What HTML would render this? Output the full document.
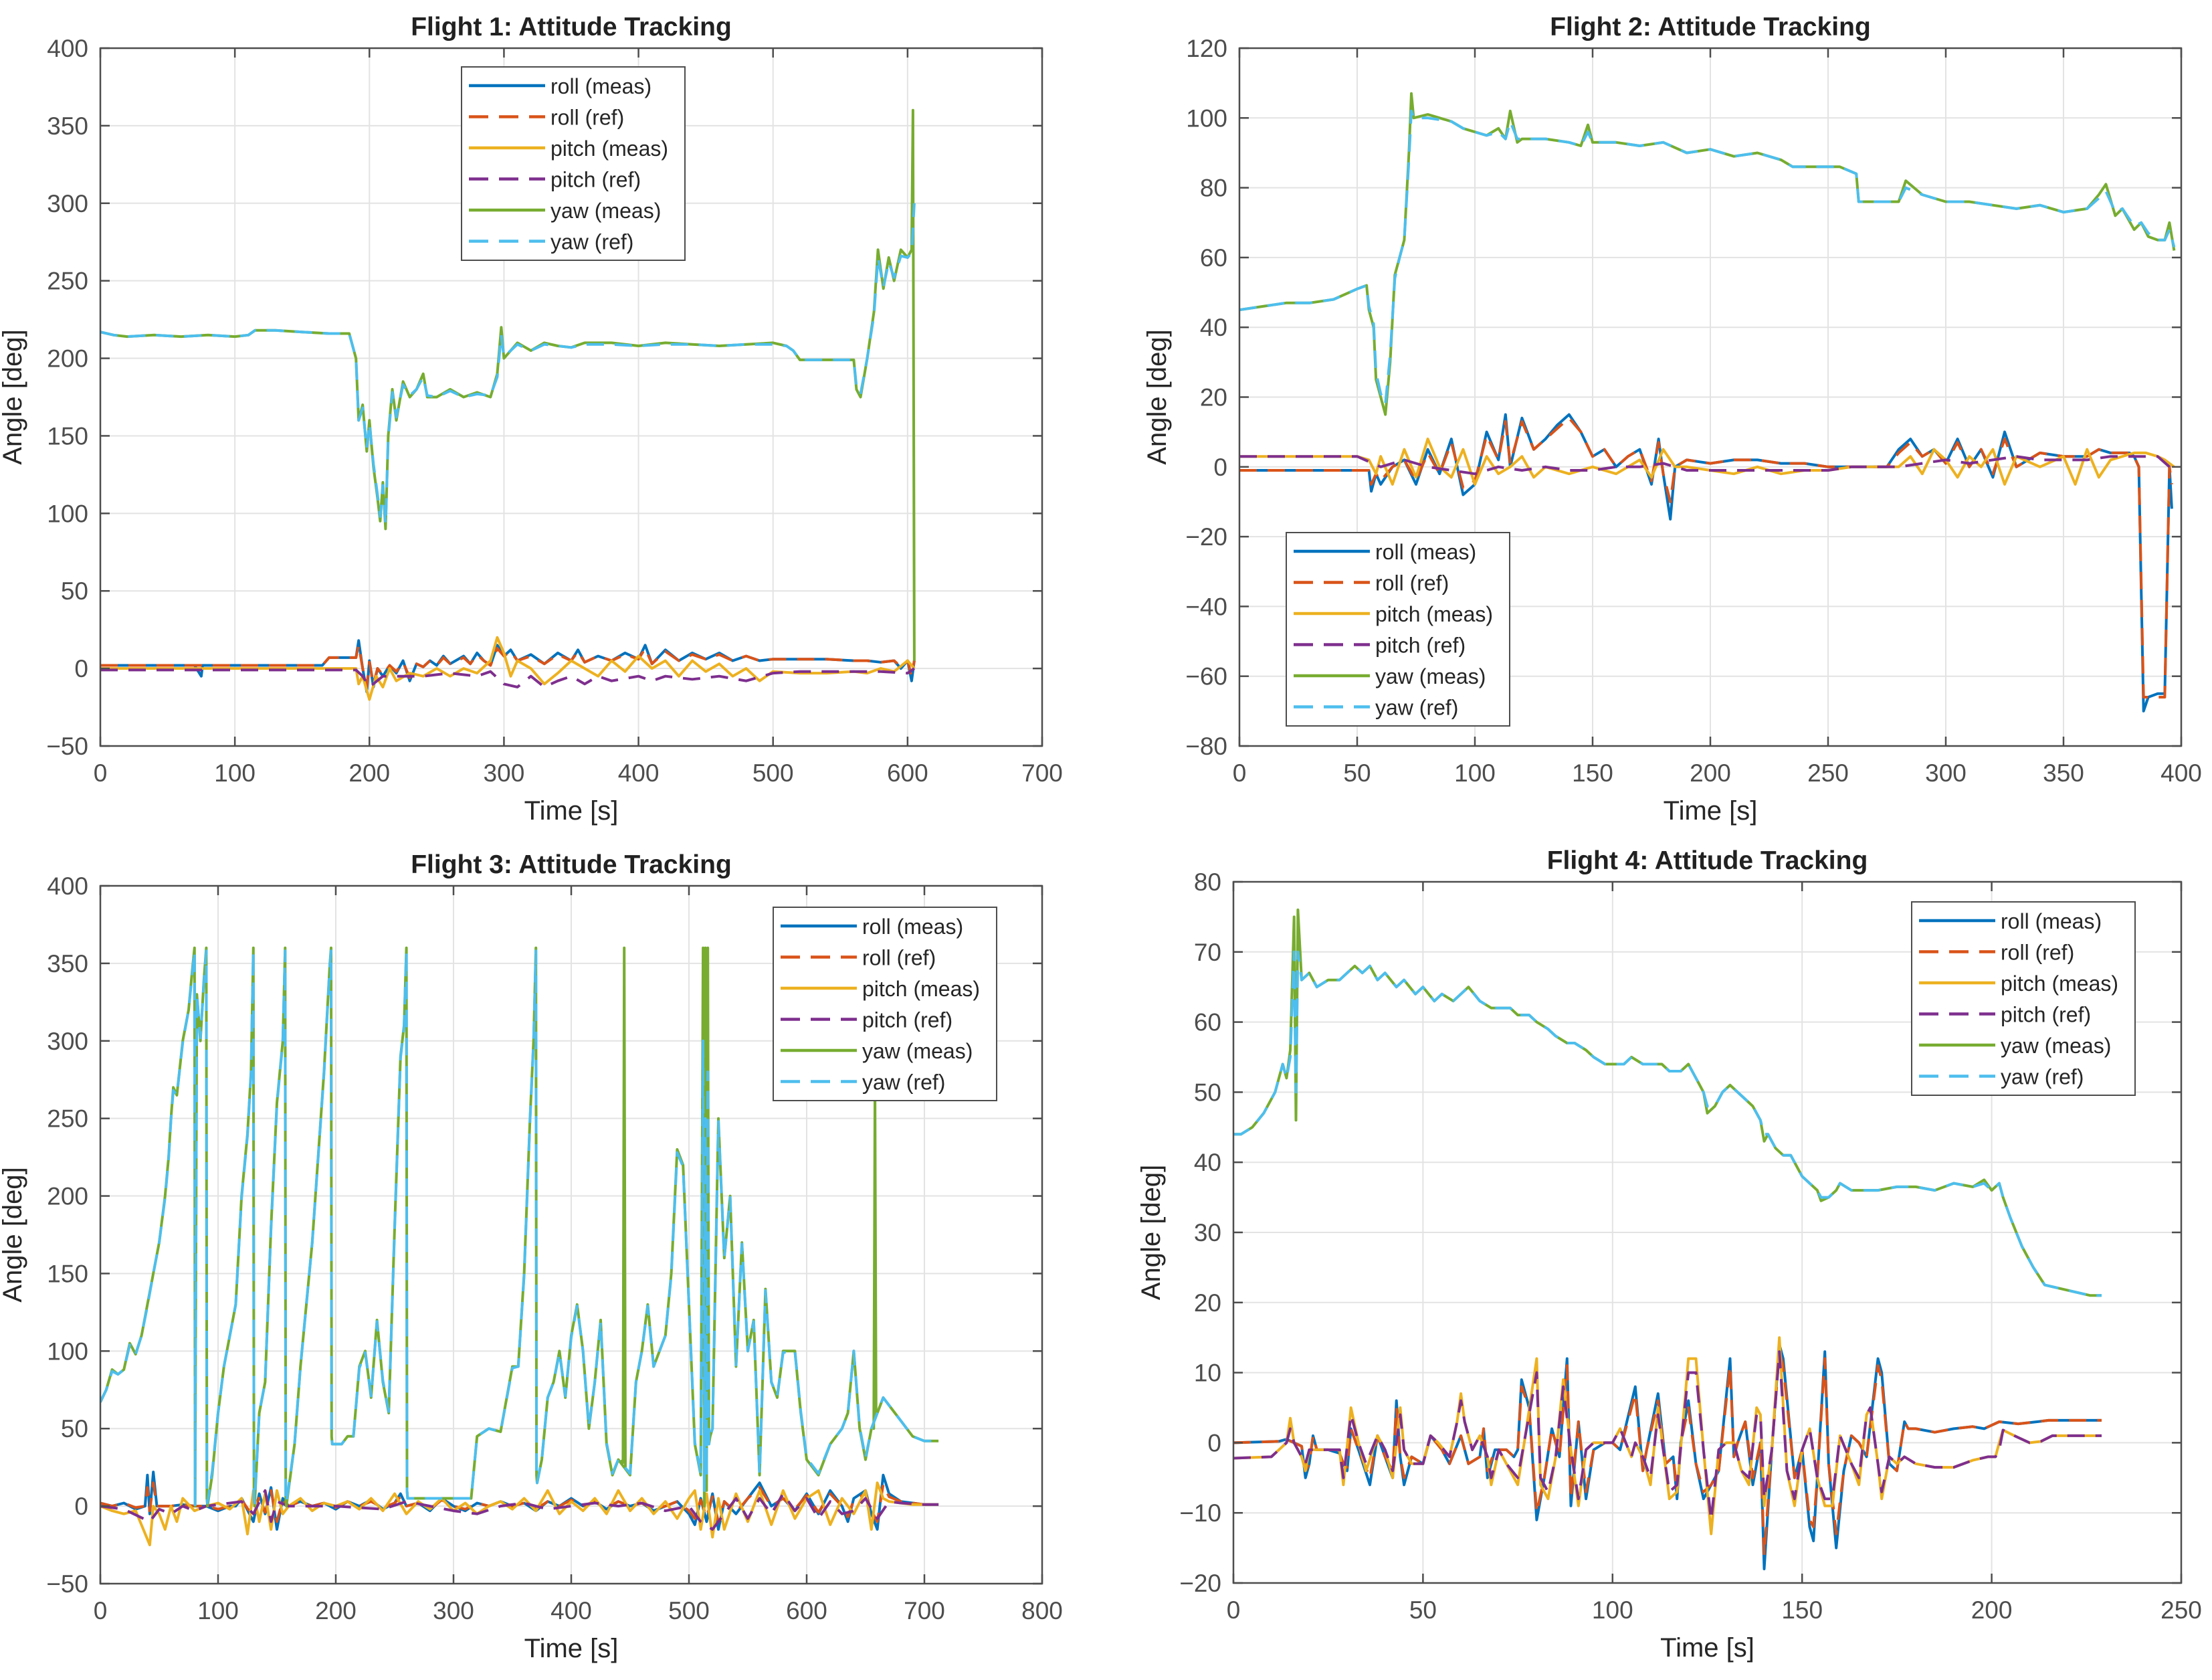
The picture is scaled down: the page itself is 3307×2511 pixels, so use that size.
<!DOCTYPE html>
<html><head><meta charset="utf-8"><style>
html,body{margin:0;padding:0;background:#fff;}
svg text{font-family:"Liberation Sans",Arial,sans-serif;}
</style></head><body>
<svg id="fig" width="3307" height="2506" viewBox="0 0 3307 2506" xmlns="http://www.w3.org/2000/svg">
<rect width="3307" height="2506" fill="#fff"/>
</svg>
<script>
// ---------- Flight 1 ----------
const yaw1T=[0,10,20,40,60,80,100,110,115,130,150,170,185,190,192,195,198,200,203,206,208,210,212,214,217,220,225,230,235,240,243,250,260,270,280,290,295,298,300,305,310,320,330,340,350,360,380,400,420,440,460,480,500,510,515,520,540,560,562,565,570,575,578,582,586,590,595,600,603,604,605];
const yaw1=[217,215,214,215,214,215,214,215,218,218,217,216,216,200,160,170,140,160,130,110,95,120,90,150,180,160,185,175,180,190,175,175,180,175,178,175,190,220,200,205,210,205,210,208,207,210,210,208,210,209,208,209,210,208,205,199,199,199,180,175,200,230,270,245,265,250,270,265,270,360,5];
const yaw1RefT=[0,10,20,40,60,80,100,110,115,130,150,170,185,190,192,195,198,200,203,206,208,210,212,214,217,220,225,230,235,240,243,250,260,270,280,290,295,298,300,305,310,320,330,340,350,360,380,400,420,440,460,480,500,510,515,520,540,560,562,565,570,575,578,582,586,590,595,600,603,605];
const yaw1Ref=[217,215,214,215,214,215,214,215,218,218,217,216,216,200,160,168,142,158,132,112,98,118,93,148,178,162,183,176,180,188,176,175,179,175,177,176,188,215,201,205,209,205,209,208,207,209,209,208,209,209,208,209,209,208,205,199,199,199,182,177,200,228,265,246,262,252,266,265,268,300];
const roll1T=[0,70,75,76,165,170,190,192,195,198,200,203,206,210,215,220,225,230,235,240,245,250,255,260,270,275,280,285,290,295,300,305,310,320,330,340,350,355,360,370,380,390,400,405,410,420,430,440,450,460,470,480,490,500,520,540,560,570,580,590,595,600,603,605];
const roll1=[2,2,-5,2,2,7,7,18,0,-15,5,-12,0,-5,2,-3,5,-8,3,1,5,2,8,3,8,3,10,5,2,15,8,12,5,9,3,10,5,12,4,8,5,10,6,15,3,12,5,10,6,10,5,8,5,6,6,6,5,5,4,5,0,5,-8,5];
const roll1Ref=[2,2,2,2,2,7,7,15,0,-12,4,-10,0,-4,2,-2,4,-6,3,1,5,2,7,3,7,3,9,5,2,13,8,11,5,8,3,9,5,11,4,8,5,9,6,13,3,11,5,9,6,9,5,8,5,6,6,6,5,5,4,5,1,5,-5,5];
const pitch1T=[0,165,190,192,195,200,205,210,215,220,230,240,250,260,270,280,290,295,300,305,310,320,330,340,350,360,370,380,390,400,410,420,430,440,450,460,470,480,490,500,520,540,560,570,580,590,600,605];
const pitch1=[0,0,0,-10,-5,-20,-5,-12,0,-8,-3,-5,0,-5,0,-3,5,20,10,-5,5,0,-10,-3,5,0,-5,5,-2,8,0,5,-5,5,-2,3,-5,0,-8,-2,-3,-3,-2,-3,0,-2,5,0];
const pitch1RefT=[0,190,195,200,210,220,240,260,280,290,300,310,320,330,340,350,360,370,380,400,410,420,440,460,480,500,520,560,580,600,605];
const pitch1Ref=[-1,-1,-5,-12,-5,-5,-5,-3,-5,-2,-10,-12,-5,-12,-8,-5,-10,-5,-8,-5,-8,-5,-7,-5,-8,-3,-2,-2,-2,-3,0];

// ---------- Flight 2 ----------
const yaw2T=[0,10,20,30,40,50,54,55,57,58,60,62,64,66,68,70,72,73,74,80,90,95,100,105,110,113,115,118,120,130,140,145,148,150,160,170,180,190,200,210,220,230,235,240,250,255,262,263,270,280,283,290,300,310,320,330,340,350,360,365,368,372,375,380,383,386,390,393,395,397];
const yaw2=[45,46,47,47,48,51,52,45,40,25,20,15,30,55,60,65,90,107,100,101,99,97,96,95,97,94,102,93,94,94,93,92,98,93,93,92,93,90,91,89,90,88,86,86,86,86,84,76,76,76,82,78,76,76,75,74,75,73,74,78,81,72,74,68,70,66,65,65,70,62];
const yaw2Ref=[45,46,47,47,48,51,52,46,41,27,21,18,32,54,60,65,88,102,100,100,99,97,96,95,96,94,99,94,94,94,93,92,96,93,93,92,93,90,91,89,90,88,86,86,86,86,84,76,76,76,80,78,76,76,75,74,75,73,74,77,79,73,74,69,70,67,65,65,68,63];
const roll2T=[0,50,55,56,58,60,65,70,75,80,85,90,95,100,105,110,113,115,120,125,130,135,140,145,150,155,160,165,170,175,178,180,183,185,190,200,210,220,230,240,250,260,270,275,280,285,290,295,300,305,310,315,320,325,330,340,350,360,365,370,375,378,380,382,384,386,390,393,395,396];
const roll2=[-1,-1,-1,-7,-2,-5,0,2,-5,5,-2,8,-8,-5,10,2,15,0,14,5,8,12,15,10,3,5,0,3,5,-5,8,-2,-15,0,2,1,2,2,1,1,0,0,0,0,5,8,3,5,1,8,0,5,-3,10,0,4,3,3,5,4,4,4,3,0,-70,-66,-65,-65,0,-12];
const roll2Ref=[-1,-1,-1,-5,-2,-4,0,2,-4,4,-2,7,-6,-4,9,2,13,1,13,5,8,11,14,10,3,5,0,3,5,-4,7,-2,-10,0,2,1,2,2,1,1,0,0,0,0,4,7,3,5,1,7,0,5,-2,8,0,4,3,3,5,4,4,4,3,0,-66,-66,-66,-66,0,-5];
const pitch2T=[0,50,55,58,60,65,70,75,80,85,90,95,100,105,110,115,120,125,130,140,150,160,170,175,180,185,190,200,210,220,230,240,250,260,270,280,285,290,295,300,305,310,315,320,325,330,340,350,355,360,365,370,375,380,385,390,393,397];
const pitch2=[3,3,2,-2,3,-5,5,-3,8,0,-3,5,-5,3,-2,0,3,-3,0,-2,0,-2,2,-3,5,0,0,-1,-2,0,-2,-1,-1,0,0,0,3,-2,5,2,-3,3,0,5,-5,3,0,3,-5,5,-3,2,3,4,4,3,2,0];
const pitch2RefT=[0,50,60,70,80,90,100,110,120,130,140,150,160,170,180,190,200,220,240,250,260,280,290,300,310,320,330,340,350,360,370,380,385,390,395];
const pitch2Ref=[3,3,0,2,0,-1,-2,0,-1,0,-1,-1,0,0,1,-1,-1,-1,-1,-1,0,0,1,2,1,2,3,2,2,2,3,3,3,3,0];

// ---------- Flight 3 ----------
const yaw3T=[
 0,5,10,15,20,25,30,35,40,45,
 50,55,58,60,62,65,70,75,78,80,
 80.5,82,85,88,90,90.5,91,95,100,105,
 110,115,120,125,128,130,130.5,131,135,140,
 145,150,155,157,157.5,158,165,170,180,190,
 195,196,196.5,197,205,210,215,220,225,230,
 235,240,245,250,255,258,260,260.5,261,270,
 290,300,310,315,320,330,340,350,355,360,
 365,368,370,370.5,371,375,380,385,390,395,
 400,405,410,415,420,425,430,435,440,450,
 455,460,465,470,480,485,490,495,500,505,
 510,512,513,514,515,516,517,518,520,525,
 530,535,540,545,550,555,560,565,570,575,
 580,590,595,600,610,620,630,635,640,645,
 650,655,660,665,670,680,690,700,712];
const yaw3=[
 67,75,88,85,88,105,98,110,130,150,
 170,200,225,250,270,265,300,320,345,360,
 0,330,300,340,360,5,0,20,60,90,
 110,130,200,240,280,360,5,0,60,80,
 180,260,300,360,5,0,40,90,170,280,
 350,360,45,40,40,45,45,90,100,70,
 120,80,60,180,290,310,360,10,5,5,
 5,5,5,5,45,50,48,90,90,150,
 250,300,360,20,15,30,70,80,100,70,
 110,130,100,50,80,120,40,20,30,20,
 80,100,130,90,110,150,230,220,130,40,
 20,360,0,360,10,360,40,45,50,250,
 160,200,90,170,100,120,20,140,80,70,
 100,100,60,30,20,40,50,60,100,50,
 30,50,60,70,65,55,45,42,42];
const yaw3Ref=[
 67,75,87,85,88,104,98,110,129,150,
 170,199,224,249,268,265,299,320,343,358,
 0,330,302,338,358,5,2,22,60,90,
 110,130,199,239,279,358,5,2,60,80,
 179,259,299,358,5,2,40,90,170,279,
 349,358,45,40,40,45,45,89,99,71,
 119,81,61,179,289,309,358,10,5,5,
 5,5,5,5,45,50,48,89,90,149,
 249,299,358,20,15,30,70,80,99,71,
 109,129,100,51,80,119,41,21,30,21,
 80,100,129,90,110,149,228,219,130,41,
 21,300,10,250,20,280,40,45,50,248,
 160,199,91,169,100,119,21,139,80,71,
 99,100,61,31,21,40,50,60,100,51,
 31,50,60,70,65,55,45,42,42];
const yaw3SpikeAT=[443,444,445,446];
const yaw3SpikeA=[30,28,360,25];
const yaw3SpikeBT=[656,657,658,659];
const yaw3SpikeB=[52,50,270,58];
const roll3T=[0,10,20,30,38,40,42,45,48,60,70,80,90,100,110,115,120,130,135,140,145,150,155,160,170,180,190,200,210,220,230,240,250,255,260,270,280,290,300,310,320,330,340,350,360,370,380,390,400,410,420,430,440,450,460,470,480,490,500,505,510,515,520,525,530,540,550,560,570,580,590,600,610,620,630,635,640,650,655,660,665,670,680,690,700,712];
const roll3=[2,0,2,-2,0,20,-5,22,0,0,1,0,0,-3,0,0,5,-10,8,-5,12,-15,5,0,3,0,2,-2,3,0,4,-2,2,8,0,2,-3,5,0,-3,2,0,3,0,2,-3,3,0,5,0,3,-2,3,0,2,-3,0,3,-5,-12,5,-10,8,-15,3,-5,5,15,0,5,-3,8,-5,10,0,-10,5,10,-5,-15,20,8,3,2,1,1];
const roll3Ref=[2,0,2,-1,0,12,-3,15,0,0,1,0,0,-2,0,0,4,-7,6,-4,10,-10,4,0,3,0,2,-1,3,0,3,-1,2,6,0,2,-2,4,0,-2,2,0,3,0,2,-2,3,0,4,0,3,-1,3,0,2,-2,0,3,-3,-8,4,-7,6,-10,3,-4,5,12,0,5,-2,7,-4,8,0,-7,4,8,-3,-10,14,6,3,2,1,1];
const pitch3T=[0,10,20,30,42,45,50,55,60,65,70,80,90,100,110,120,125,130,135,140,145,150,155,160,170,180,190,200,210,220,230,240,250,260,270,280,290,300,310,320,330,340,350,360,370,380,390,400,410,420,430,440,450,460,470,480,490,500,505,510,515,520,525,530,540,550,560,570,580,590,600,610,620,630,640,650,655,660,665,670,680,690,712];
const pitch3=[0,-3,-5,-3,-25,0,-5,-15,0,-10,5,-3,0,2,-2,5,-18,10,-10,8,-15,10,-5,0,5,-3,2,0,3,-2,5,-3,8,-5,3,-2,5,-3,2,-5,0,3,-2,5,-3,10,-5,3,-3,5,-5,10,-3,5,-5,3,-8,5,10,-15,8,-20,5,-15,8,-10,10,-12,10,-8,5,10,-12,5,-5,10,-15,15,5,3,2,1,1];
const pitch3RefT=[0,20,42,50,60,70,80,90,120,130,140,145,150,160,200,240,260,280,300,320,340,360,380,400,420,440,460,480,500,510,520,530,540,550,560,570,580,590,600,610,620,630,640,650,660,670,680,700,712];
const pitch3Ref=[0,-2,-10,-2,-5,0,-3,0,3,-5,10,-10,3,0,0,-2,3,0,-3,-5,0,2,-2,0,2,0,2,-3,0,-10,-15,-5,5,-8,5,-5,8,-3,5,-8,3,-5,-3,5,-8,3,2,1,1];

// ---------- Flight 4 ----------
const yaw4T=[0,2,5,8,11,13,14,15,16,16.5,17,18,20,22,25,28,30,32,34,36,38,40,43,45,48,50,53,55,58,60,62,65,68,70,73,75,78,80,83,85,88,90,93,95,98,100,103,105,108,110,113,115,118,120,122,124,125,127,129,131,133,135,137,139,140,141,143,145,147,149,150,152,154,155,157,159,160,163,165,168,170,175,180,185,190,195,198,200,202,203,205,208,211,214,218,222,226,229];
const yaw4=[44,44,45,47,50,54,52,56,75,46,76,66,67,65,66,66,67,68,67,68,66,67,65,66,64,65,63,64,63,64,65,63,62,62,62,61,61,60,59,58,57,57,56,55,54,54,54,55,54,54,54,53,53,54,52,50,47,48,50,51,50,49,48,46,43,44,42,41,41,39,38,37,36,34.5,35,36,37,36,36,36,36,36.5,36.5,36,37,36.5,37.5,36,37,35,32,28,25,22.5,22,21.5,21,21];
const yaw4Ref=[44,44,45,47,50,54,52,55,70,50,70,66,67,65,66,66,67,68,67,68,66,67,65,66,64,65,63,64,63,64,65,63,62,62,62,61,61,60,59,58,57,57,56,55,54,54,54,55,54,54,54,53,53,54,52,50,48,48,50,51,50,49,48,46,44,44,42,41,41,39,38,37,36,35,35,36,37,36,36,36,36,36.5,36.5,36,37,36.5,37,36,37,35,32,28,25,22.5,22,21.5,21,21];
const roll4T=[0,12,14,16,18,19,20,21,22,25,28,29,30,31,33,36,38,40,42,43,44,45,47,50,52,55,57,60,62,65,66,67,69,72,74,75,76,78,80,82,84,86,88,89,91,93,95,98,100,102,106,108,109,112,114,116,117,118,120,122,124,126,128,131,132,133,135,137,139,140,142,144,145,148,150,152,153,154,156,157,159,161,163,165,167,170,171,173,175,177,178,180,185,190,195,198,200,202,207,212,215,229];
const roll4=[0,0.2,0.5,0,-0.5,-5,-3,1,-1,-1,-1.5,-3,-4,2,-1,-6,1,-2,-5,6,-2,-6,-2,-3,1,-1,-3,1,-3,-2,2,-5,-1,-1,-2,-1,9,5,-11,-5,2,-2,12,-9,3,-8,-1,0,0,-1,8,-4,-1,7,-3,-2,-8,0,6,-3,-8,-6,-4,12,-2,0,3,-6,0,-18,-1,14,12,-5,-1,-12,-14,-5,13,-3,-15,-4,1,0,-2,12,10,-3,-4,3,2,2,1.5,2,2.3,2,2.5,3,2.7,3,3.2,3.2];
const roll4Ref=[0,0.2,0.5,0,-0.5,-4,-3,1,-1,-1,-1.5,-3,-3.5,2,-1,-5,1,-2,-4,5,-2,-5,-2,-3,1,-1,-3,1,-3,-2,2,-4,-1,-1,-2,-1,8,5,-10,-5,2,-2,11,-8,3,-7,-1,0,0,-1,7,-4,-1,6,-3,-2,-7,0,5,-3,-7,-6,-4,11,-2,0,3,-5,0,-16,-1,13,11,-5,-1,-11,-12,-5,12,-3,-13,-4,1,0,-2,11,9,-3,-4,3,2,2,1.5,2,2.3,2,2.5,3,2.7,3,3.2,3.2];
const pitch4T=[0,10,14,15,16,18,19,20,24,28,29,31,33,35,38,40,42,44,45,47,50,52,54,57,59,60,61,63,65,67,68,70,72,75,77,80,81,83,85,87,89,91,93,95,98,100,102,105,106,108,110,112,115,117,120,122,124,126,128,130,132,134,136,138,139,140,142,144,146,148,150,152,154,156,158,160,163,165,167,168,170,171,173,175,177,180,185,190,195,199,201,202,203,206,210,213,216,229];
const pitch4=[-2.2,-2,0,3.5,0,-2,-4,-1,-1,-1,-6,5,0,-4,1,-1,-5,5,-1,-3,-3,1,0,-2,3,7,3,-1,1,-2,-6,-1,-3,-6,1,12,-6,-8,-2,9,-1,-9,-1,0,0,0,2,-2,0,-2,-6,5,-8,-7,12,12,-1,-13,-1,0,0,-4,-6,5,4,-9,-1,15,-4,-9,-1,2,-5,-9,-9,1,-3,-6,4,5,-3,-8,-2,-3,-2,-3,-3.5,-3.5,-2.5,-2,-2,0,1.8,1,0,0.2,1,1];
const pitch4Ref=[-2.2,-2,0,2,0,-2,-3,-1,-1,-1,-5,4,0,-3,1,-1,-4,4,-1,-3,-3,1,0,-2,3,6,3,-1,1,-2,-5,-1,-3,-5,1,10,-5,-7,-2,8,-1,-8,-1,0,0,0,2,-2,0,-2,-5,4,-7,-6,10,10,-1,-11,-1,0,0,-4,-5,4,4,-8,-1,13,-4,-8,-1,2,-5,-8,-8,1,-3,-5,4,5,-3,-7,-2,-3,-2,-3,-3.5,-3.5,-2.5,-2,-2,-1,1.8,1,0,0.2,1,1];

// ---------- Axis tick data ----------
const xTicks1=[0,100,200,300,400,500,600,700], yTicks1=[-50,0,50,100,150,200,250,300,350,400];
const xTicks2=[0,50,100,150,200,250,300,350,400], yTicks2=[-80,-60,-40,-20,0,20,40,60,80,100,120];
const xTicks3=[0,100,200,300,400,500,600,700,800], yTicks3=[-50,0,50,100,150,200,250,300,350,400];
const xTicks4=[0,50,100,150,200,250], yTicks4=[-20,-10,0,10,20,30,40,50,60,70,80];
const titles=["Flight 1: Attitude Tracking","Flight 2: Attitude Tracking","Flight 3: Attitude Tracking","Flight 4: Attitude Tracking"];
const legendLabels=["roll (meas)","roll (ref)","pitch (meas)","pitch (ref)","yaw (meas)","yaw (ref)"];

const NS="http://www.w3.org/2000/svg";
const svg=document.getElementById('fig');
const C={rm:"#0072BD",rr:"#D95319",pm:"#EDB120",pr:"#7E2F8E",ym:"#77AC30",yr:"#4DBEEE"};
function el(tag,attrs,parent){const e=document.createElementNS(NS,tag);for(const k in attrs)e.setAttribute(k,attrs[k]);(parent||svg).appendChild(e);return e;}

function panel(idx,box,xt,yt,series,legPos){
  const g=el('g',{});
  
  
  const xmin=xt[0],xmax=xt[xt.length-1],ymin=yt[0],ymax=yt[yt.length-1];
  const sx=t=>box.x0+(t-xmin)/(xmax-xmin)*(box.x1-box.x0);
  const sy=v=>box.y1-(v-ymin)/(ymax-ymin)*(box.y1-box.y0);
  xt.forEach(t=>{const l=el('line',{x1:sx(t),x2:sx(t),y1:box.y0,y2:box.y1,stroke:'#e3e3e3','stroke-width':2},g);
    });
  yt.forEach(v=>{const l=el('line',{x1:box.x0,x2:box.x1,y1:sy(v),y2:sy(v),stroke:'#e3e3e3','stroke-width':2},g);
    });
  const cid='clip'+idx;
  const cp=el('clipPath',{id:cid},g);el('rect',{x:box.x0,y:box.y0,width:box.x1-box.x0,height:box.y1-box.y0},cp);
  const lg=el('g',{'clip-path':'url(#'+cid+')'},g);
  series.forEach(s=>{
    const n=Math.min(s.t.length,s.v.length);
    let d='';
    for(let i=0;i<n;i++)d+=(i?'L':'M')+sx(s.t[i]).toFixed(1)+','+sy(s.v[i]).toFixed(1);
    const p=el('path',{d:d,fill:'none',stroke:s.c,'stroke-width':4,'stroke-linejoin':'round'},lg);
    if(s.dash)p.setAttribute('stroke-dasharray','26 16');
    
    
  });
  const r=el('rect',{x:box.x0,y:box.y0,width:box.x1-box.x0,height:box.y1-box.y0,fill:'none',stroke:'#4d4d4d','stroke-width':2.5},g);
  
  xt.forEach(t=>{
    el('line',{x1:sx(t),x2:sx(t),y1:box.y1,y2:box.y1-14,stroke:'#4d4d4d','stroke-width':2.5},g);
    el('line',{x1:sx(t),x2:sx(t),y1:box.y0,y2:box.y0+14,stroke:'#4d4d4d','stroke-width':2.5},g);
    const tx=el('text',{x:sx(t),y:box.y1+53,'font-size':37,fill:'#4d4d4d','text-anchor':'middle'},g);
    tx.textContent=t;
    
  });
  yt.forEach(v=>{
    el('line',{x1:box.x0,x2:box.x0+14,y1:sy(v),y2:sy(v),stroke:'#4d4d4d','stroke-width':2.5},g);
    el('line',{x1:box.x1,x2:box.x1-14,y1:sy(v),y2:sy(v),stroke:'#4d4d4d','stroke-width':2.5},g);
    const tx=el('text',{x:box.x0-18,y:sy(v)+13,'font-size':37,fill:'#4d4d4d','text-anchor':'end'},g);
    tx.textContent=String(v).replace('-','\u2212');
    
  });
  const xl=el('text',{x:(box.x0+box.x1)/2,y:box.y1+110,'font-size':40,fill:'#262626','text-anchor':'middle'},g);
  xl.textContent='Time [s]';
  
  const yx=box.x0-(idx%2?110:118);
  const yl=el('text',{x:yx,y:(box.y0+box.y1)/2,'font-size':40,fill:'#262626','text-anchor':'middle',transform:'rotate(-90 '+yx+' '+(box.y0+box.y1)/2+')'},g);
  yl.textContent='Angle [deg]';
  
  const ti=el('text',{x:(box.x0+box.x1)/2,y:box.y0-19,'font-size':39,'font-weight':'bold',fill:'#212121','text-anchor':'middle'},g);
  ti.textContent=titles[idx];
  
  const L=el('g',{},g);
  
  el('rect',{x:legPos[0],y:legPos[1],width:334,height:289,fill:'#fff',stroke:'#4d4d4d','stroke-width':2},L);
  const cols=[C.rm,C.rr,C.pm,C.pr,C.ym,C.yr];
  legendLabels.forEach((lab,i)=>{
    const y=legPos[1]+28+i*46.5;
    const ln=el('line',{x1:legPos[0]+11,x2:legPos[0]+125,y1:y,y2:y,stroke:cols[i],'stroke-width':4.5},L);
    if(i%2)ln.setAttribute('stroke-dasharray','29 16');
    
    const tx=el('text',{x:legPos[0]+133,y:y+12,'font-size':32,fill:'#262626'},L);
    tx.textContent=lab;
    
  });
}

panel(0,{x0:150,x1:1558,y0:72,y1:1115},xTicks1,yTicks1,[
 {t:roll1T,v:roll1,c:C.rm,name:'roll-meas-line'},
 {t:roll1T,v:roll1Ref,c:C.rr,dash:1,name:'roll-ref-line'},
 {t:pitch1T,v:pitch1,c:C.pm,name:'pitch-meas-line'},
 {t:pitch1RefT,v:pitch1Ref,c:C.pr,dash:1,name:'pitch-ref-line'},
 {t:yaw1T,v:yaw1,c:C.ym,name:'yaw-meas-line'},
 {t:yaw1RefT,v:yaw1Ref,c:C.yr,dash:1,name:'yaw-ref-line'}],[690,100]);
panel(1,{x0:1853,x1:3261,y0:72,y1:1115},xTicks2,yTicks2,[
 {t:roll2T,v:roll2,c:C.rm,name:'roll-meas-line'},
 {t:roll2T,v:roll2Ref,c:C.rr,dash:1,name:'roll-ref-line'},
 {t:pitch2T,v:pitch2,c:C.pm,name:'pitch-meas-line'},
 {t:pitch2RefT,v:pitch2Ref,c:C.pr,dash:1,name:'pitch-ref-line'},
 {t:yaw2T,v:yaw2,c:C.ym,name:'yaw-meas-line'},
 {t:yaw2T,v:yaw2Ref,c:C.yr,dash:1,name:'yaw-ref-line'}],[1923,796]);
panel(2,{x0:150,x1:1558,y0:1324,y1:2367},xTicks3,yTicks3,[
 {t:roll3T,v:roll3,c:C.rm,name:'roll-meas-line'},
 {t:roll3T,v:roll3Ref,c:C.rr,dash:1,name:'roll-ref-line'},
 {t:pitch3T,v:pitch3,c:C.pm,name:'pitch-meas-line'},
 {t:pitch3RefT,v:pitch3Ref,c:C.pr,dash:1,name:'pitch-ref-line'},
 {t:yaw3T,v:yaw3,c:C.ym,name:'yaw-meas-line'},
 {t:yaw3SpikeAT,v:yaw3SpikeA,c:C.ym,name:'yaw-meas-spike'},
 {t:yaw3SpikeBT,v:yaw3SpikeB,c:C.ym,name:'yaw-meas-spike'},
 {t:yaw3T,v:yaw3Ref,c:C.yr,dash:1,name:'yaw-ref-line'}],[1156,1356]);
panel(3,{x0:1844,x1:3261,y0:1318,y1:2366},xTicks4,yTicks4,[
 {t:roll4T,v:roll4,c:C.rm,name:'roll-meas-line'},
 {t:roll4T,v:roll4Ref,c:C.rr,dash:1,name:'roll-ref-line'},
 {t:pitch4T,v:pitch4,c:C.pm,name:'pitch-meas-line'},
 {t:pitch4T,v:pitch4Ref,c:C.pr,dash:1,name:'pitch-ref-line'},
 {t:yaw4T,v:yaw4,c:C.ym,name:'yaw-meas-line'},
 {t:yaw4T,v:yaw4Ref,c:C.yr,dash:1,name:'yaw-ref-line'}],[2858,1348]);
</script>
</body></html>
